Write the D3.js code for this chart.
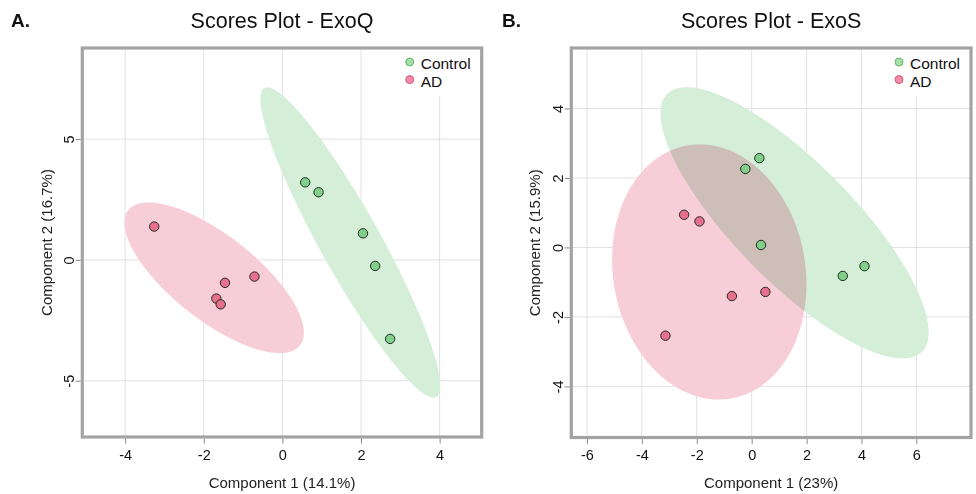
<!DOCTYPE html>
<html>
<head>
<meta charset="utf-8">
<script src="https://cdn.jsdelivr.net/npm/d3@7"></script>
<style>
  body { margin: 0; background: #fff; }
  svg { display: block; font-family: "Liberation Sans", Arial, sans-serif; }
  .ellipse { mix-blend-mode: multiply; }
</style>
</head>
<body>
<svg id="chart" width="976" height="494"></svg>
<script>
// ─── Data ───
const groups = ["Control", "AD"];

const exoqControlX = [0.58, 0.92, 2.05, 2.36, 2.74];
const exoqControlY = [3.21, 2.80, 1.10, -0.25, -3.27];
const exoqAdX = [-3.26, -0.71, -1.46, -1.68, -1.57];
const exoqAdY = [1.38, -0.69, -0.95, -1.60, -1.84];

const exosControlX = [0.28, -0.23, 0.34, 3.32, 4.11];
const exosControlY = [2.57, 2.26, 0.07, -0.82, -0.54];
const exosAdX = [-2.46, -1.90, -0.72, 0.50, -3.14];
const exosAdY = [0.94, 0.75, -1.40, -1.28, -2.54];

const exoqXDomain = [-5.09, 5.07];
const exoqYDomain = [-7.33, 8.77];
const exosXDomain = [-6.57, 7.99];
const exosYDomain = [-5.47, 5.74];

const exoqXTicks = [-4, -2, 0, 2, 4];
const exoqYTicks = [-5, 0, 5];
const exosXTicks = [-6, -4, -2, 0, 2, 4, 6];
const exosYTicks = [-4, -2, 0, 2, 4];

// ─── Styles ───
const POINT_FILL = { Control: "#80cf8a", AD: "#e8708f" };
const ELLIPSE_FILL = { Control: "#d4eed8", AD: "#f7cdd8" };
const LEGEND_FILL = { Control: "#a6dea8", AD: "#f08aa6" };
const LEGEND_STROKE = { Control: "#62b86a", AD: "#d65a7e" };
const CHI95 = Math.sqrt(5.991); // 95% confidence region, 2 dof
const fmt = (d) => String(d); // plain hyphen minus, like the original

const svg = d3.select("#chart");

// 95% confidence ellipse outline from the group covariance
function ellipsePoints(xs, ys) {
  const n = xs.length;
  const mx = d3.mean(xs), my = d3.mean(ys);
  let sxx = 0, syy = 0, sxy = 0;
  for (let i = 0; i < n; i++) {
    sxx += (xs[i] - mx) ** 2;
    syy += (ys[i] - my) ** 2;
    sxy += (xs[i] - mx) * (ys[i] - my);
  }
  sxx /= n - 1; syy /= n - 1; sxy /= n - 1;
  const l11 = Math.sqrt(sxx), l21 = sxy / l11, l22 = Math.sqrt(syy - l21 * l21);
  return d3.range(0, 120).map((i) => {
    const t = (i / 120) * 2 * Math.PI;
    return [mx + CHI95 * l11 * Math.cos(t), my + CHI95 * (l21 * Math.cos(t) + l22 * Math.sin(t))];
  });
}

function drawPanel(p) {
  const g = svg.append("g");
  const x = d3.scaleLinear().domain(p.xDomain).range([p.left, p.right]);
  const y = d3.scaleLinear().domain(p.yDomain).range([p.bottom, p.top]);

  const clipId = "clip-" + p.key;
  svg.append("clipPath").attr("id", clipId)
    .append("rect")
    .attr("x", p.left).attr("y", p.top)
    .attr("width", p.right - p.left).attr("height", p.bottom - p.top);

  // Grid
  g.append("g").selectAll("line").data(p.xTicks).join("line")
    .attr("x1", (d) => x(d)).attr("x2", (d) => x(d))
    .attr("y1", p.top).attr("y2", p.bottom)
    .attr("stroke", "#e1e1e1").attr("stroke-width", 1);
  g.append("g").selectAll("line").data(p.yTicks).join("line")
    .attr("y1", (d) => y(d)).attr("y2", (d) => y(d))
    .attr("x1", p.left).attr("x2", p.right)
    .attr("stroke", "#e1e1e1").attr("stroke-width", 1);

  // Ellipses
  const line = d3.line().x((d) => x(d[0])).y((d) => y(d[1])).curve(d3.curveLinearClosed);
  const eg = g.append("g").attr("clip-path", `url(#${clipId})`);
  p.series.forEach((s) => {
    eg.append("path")
      .attr("class", "ellipse")
      .attr("d", line(ellipsePoints(s.xs, s.ys)))
      .attr("fill", ELLIPSE_FILL[s.group]);
  });

  // Points
  p.series.forEach((s) => {
    g.append("g").selectAll("circle").data(d3.zip(s.xs, s.ys)).join("circle")
      .attr("cx", (d) => x(d[0])).attr("cy", (d) => y(d[1]))
      .attr("r", 4.7)
      .attr("fill", POINT_FILL[s.group])
      .attr("stroke", "#1f2a1f").attr("stroke-width", 1);
  });

  // Legend (white box hides grid)
  g.append("rect")
    .attr("x", p.right - 86).attr("y", p.top)
    .attr("width", 86).attr("height", 48)
    .attr("fill", "#fff");
  groups.forEach((name, i) => {
    const ly = p.top + 14 + i * 17.6;
    g.append("circle")
      .attr("cx", p.right - 72).attr("cy", ly)
      .attr("r", 4)
      .attr("fill", LEGEND_FILL[name]).attr("stroke", LEGEND_STROKE[name]);
    g.append("text")
      .attr("x", p.right - 61).attr("y", ly + 2)
      .attr("dy", "0.35em")
      .attr("font-size", "15.5px").attr("fill", "#111")
      .text(name);
  });

  // Frame
  g.append("rect")
    .attr("x", p.left).attr("y", p.top)
    .attr("width", p.right - p.left).attr("height", p.bottom - p.top)
    .attr("fill", "none").attr("stroke", "#a3a3a3").attr("stroke-width", 3.2);

  // X axis
  const xAxis = g.append("g")
    .attr("transform", `translate(0,${p.bottom + 1.6})`)
    .call(d3.axisBottom(x).tickValues(p.xTicks).tickSize(5).tickPadding(6).tickFormat(fmt));
  xAxis.select(".domain").remove();
  xAxis.selectAll(".tick line").attr("stroke", "#8a8a8a");
  xAxis.selectAll("text").attr("font-size", "14.5px").attr("fill", "#111")
    .attr("font-family", "Liberation Sans, Arial, sans-serif");

  // Y axis (rotated labels)
  const yAxis = g.append("g")
    .attr("transform", `translate(${p.left - 1.6},0)`)
    .call(d3.axisLeft(y).tickValues(p.yTicks).tickSize(5).tickFormat(fmt));
  yAxis.select(".domain").remove();
  yAxis.selectAll(".tick line").attr("stroke", "#8a8a8a");
  yAxis.selectAll("text")
    .attr("transform", "rotate(-90)")
    .attr("x", 0).attr("y", -7).attr("dy", 0)
    .attr("text-anchor", "middle")
    .attr("font-size", "14.5px").attr("fill", "#111")
    .attr("font-family", "Liberation Sans, Arial, sans-serif");

  // Titles
  const cx = (p.left + p.right) / 2, cy = (p.top + p.bottom) / 2;
  svg.append("text")
    .attr("x", cx).attr("y", 28)
    .attr("text-anchor", "middle")
    .attr("font-size", "21.5px").attr("fill", "#111")
    .text(p.title);
  svg.append("text")
    .attr("x", p.labelX).attr("y", 27)
    .attr("font-size", "19px").attr("font-weight", "bold").attr("fill", "#111")
    .text(p.label);
  svg.append("text")
    .attr("x", cx).attr("y", 488)
    .attr("text-anchor", "middle")
    .attr("font-size", "15px").attr("fill", "#222")
    .text(p.xTitle);
  svg.append("text")
    .attr("transform", `translate(${p.yTitleX},${cy}) rotate(-90)`)
    .attr("text-anchor", "middle")
    .attr("font-size", "15px").attr("fill", "#222")
    .text(p.yTitle);
}

drawPanel({
  key: "exoq", label: "A.", labelX: 11, title: "Scores Plot - ExoQ",
  xTitle: "Component 1 (14.1%)", yTitle: "Component 2 (16.7%)", yTitleX: 52,
  left: 82.3, right: 481.7, top: 48, bottom: 437,
  xDomain: exoqXDomain, yDomain: exoqYDomain, xTicks: exoqXTicks, yTicks: exoqYTicks,
  series: [
    { group: "Control", xs: exoqControlX, ys: exoqControlY },
    { group: "AD", xs: exoqAdX, ys: exoqAdY },
  ],
});

drawPanel({
  key: "exos", label: "B.", labelX: 502, title: "Scores Plot - ExoS",
  xTitle: "Component 1 (23%)", yTitle: "Component 2 (15.9%)", yTitleX: 540,
  left: 571.3, right: 971, top: 48, bottom: 437.5,
  xDomain: exosXDomain, yDomain: exosYDomain, xTicks: exosXTicks, yTicks: exosYTicks,
  series: [
    { group: "Control", xs: exosControlX, ys: exosControlY },
    { group: "AD", xs: exosAdX, ys: exosAdY },
  ],
});
</script>
</body>
</html>
